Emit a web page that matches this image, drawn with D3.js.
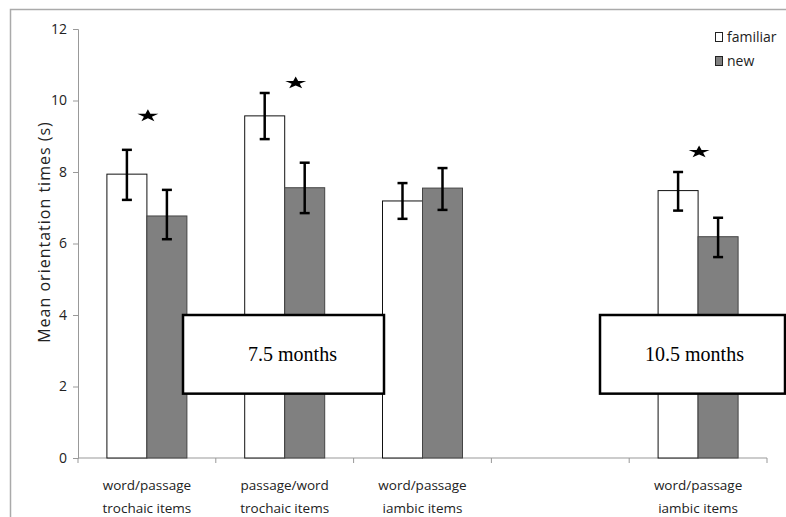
<!DOCTYPE html>
<html>
<head>
<meta charset="utf-8">
<script src="https://cdn.jsdelivr.net/npm/d3@7"></script>
<style>
  body { margin: 0; background: #fff; }
  svg { display: block; }
</style>
</head>
<body>
<svg id="chart"></svg>
<script>
// data
var categories = ["wp-tro", "pw-tro", "wp-iam", "gap", "wp-iam-10"],
  catLabels = [["word/passage", "trochaic items"], ["passage/word", "trochaic items"],
               ["word/passage", "iambic items"], ["", ""], ["word/passage", "iambic items"]],
  series = ["familiar", "new"],
  familiar = [7.94, 9.57, 7.19, null, 7.48],
  familiarLo = [7.22, 8.92, 6.69, null, 6.92],
  familiarHi = [8.62, 10.21, 7.69, null, 8.0],
  newVals = [6.77, 7.56, 7.55, null, 6.19],
  newLo = [6.12, 6.85, 6.94, null, 5.62],
  newHi = [7.5, 8.26, 8.11, null, 6.72],
  stars = [{cat: "wp-tro", v: 9.57}, {cat: "pw-tro", v: 10.49}, {cat: "wp-iam-10", v: 8.56}],
  yTicks = [0, 2, 4, 6, 8, 10, 12],
  ageBoxes = [{label: "7.5 months", top: 4, bottom: 1.8}, {label: "10.5 months", top: 4, bottom: 1.8}];

var width = 786, height = 517;
var svg = d3.select("#chart").attr("width", width).attr("height", height);

// outer frame
svg.append("path")
  .attr("d", "M10.5," + height + "V9.5H" + width)
  .attr("fill", "none").attr("stroke", "#aaa").attr("stroke-width", 1.5);

var x = d3.scaleBand().domain(categories).range([78, 767]);
var y = d3.scaleLinear().domain([0, 12]).range([458, 29]);
var barW = 40;

// y axis
var yAxis = svg.append("g").attr("transform", "translate(78,0)")
  .call(d3.axisLeft(y).tickValues(yTicks).tickSize(5).tickPadding(6));
yAxis.select(".domain").attr("stroke", "#999");
yAxis.selectAll(".tick line").attr("stroke", "#999");
yAxis.selectAll(".tick text")
  .attr("font-family", "Open Sans, sans-serif").attr("font-size", 14).attr("fill", "#222");

// x axis: ticks at the band edges
var xg = svg.append("g").attr("transform", "translate(0,458)");
xg.append("line").attr("x1", 78).attr("x2", 767).attr("stroke", "#999");
xg.selectAll(".xt").data(categories.concat(["end"])).enter().append("line")
  .attr("x1", function(d) { return d == "end" ? x.range()[1] : x(d); })
  .attr("x2", function(d) { return d == "end" ? x.range()[1] : x(d); })
  .attr("y1", 0).attr("y2", 5).attr("stroke", "#999");

categories.forEach(function(c, i) {
  var t = svg.append("text")
    .attr("x", x(c) + x.bandwidth() / 2)
    .attr("text-anchor", "middle")
    .attr("font-family", "Open Sans, sans-serif").attr("font-size", 13.5).attr("fill", "#222");
  t.append("tspan").attr("x", x(c) + x.bandwidth() / 2).attr("y", 490).text(catLabels[i][0]);
  t.append("tspan").attr("x", x(c) + x.bandwidth() / 2).attr("y", 513).text(catLabels[i][1]);
});

// axis title
svg.append("text")
  .attr("transform", "translate(50,232) rotate(-90)")
  .attr("text-anchor", "middle")
  .attr("font-family", "Open Sans, sans-serif").attr("font-size", 16)
  .attr("letter-spacing", 1).attr("fill", "#222")
  .text("Mean orientation times (s)");

// bars
var rows = [];
categories.forEach(function(c, i) {
  if (familiar[i] != null) rows.push({cat: c, s: 0, v: familiar[i], lo: familiarLo[i], hi: familiarHi[i]});
  if (newVals[i] != null) rows.push({cat: c, s: 1, v: newVals[i], lo: newLo[i], hi: newHi[i]});
});
function cx(d) { return x(d.cat) + x.bandwidth() / 2 + (d.s == 0 ? -barW / 2 : barW / 2); }

svg.selectAll(".bar").data(rows).enter().append("rect")
  .attr("x", function(d) { return cx(d) - barW / 2; })
  .attr("y", function(d) { return y(d.v); })
  .attr("width", barW)
  .attr("height", function(d) { return y(0) - y(d.v); })
  .attr("fill", function(d) { return d.s == 0 ? "#fff" : "#808080"; })
  .attr("stroke", function(d) { return d.s == 0 ? "#111" : "#444"; })
  .attr("stroke-width", 1);

// age boxes (drawn over the bars)
var boxSpans = [[183, 384], [600, 785]];
ageBoxes.forEach(function(b, i) {
  svg.append("rect")
    .attr("x", boxSpans[i][0]).attr("y", y(b.top))
    .attr("width", boxSpans[i][1] - boxSpans[i][0]).attr("height", y(b.bottom) - y(b.top))
    .attr("fill", "#fff").attr("stroke", "#000").attr("stroke-width", 2.5);
  svg.append("text")
    .attr("x", (boxSpans[i][0] + boxSpans[i][1]) / 2 + (i == 0 ? 9 : 2))
    .attr("y", (y(b.top) + y(b.bottom)) / 2 + 7)
    .attr("text-anchor", "middle")
    .attr("font-family", "Liberation Serif, Times New Roman, serif").attr("font-size", 20)
    .text(b.label);
});

// error bars
var eb = svg.selectAll(".err").data(rows).enter().append("g").attr("stroke", "#000").attr("stroke-width", 2.5);
eb.append("line")
  .attr("x1", cx).attr("x2", cx)
  .attr("y1", function(d) { return y(d.lo); }).attr("y2", function(d) { return y(d.hi); });
eb.append("line")
  .attr("x1", function(d) { return cx(d) - 5; }).attr("x2", function(d) { return cx(d) + 5; })
  .attr("y1", function(d) { return y(d.lo); }).attr("y2", function(d) { return y(d.lo); });
eb.append("line")
  .attr("x1", function(d) { return cx(d) - 5; }).attr("x2", function(d) { return cx(d) + 5; })
  .attr("y1", function(d) { return y(d.hi); }).attr("y2", function(d) { return y(d.hi); });

// significance stars (flattened, like the printed ones)
var star = d3.symbol().type(d3.symbolStar).size(75);
svg.selectAll(".star").data(stars).enter().append("path")
  .attr("d", star)
  .attr("transform", function(d) {
    return "translate(" + (x(d.cat) + x.bandwidth() / 2 + (d.cat == "pw-tro" ? 11 : 1)) + "," + y(d.v) + ") scale(1.35,0.8)";
  })
  .attr("fill", "#000");

// legend
var lg = svg.append("g").attr("font-family", "Open Sans, sans-serif").attr("font-size", 14);
series.forEach(function(s, i) {
  lg.append("rect").attr("x", 715.5).attr("y", 32.5 + i * 24).attr("width", 7).attr("height", 9)
    .attr("fill", i == 0 ? "#fff" : "#808080").attr("stroke", "#222");
  lg.append("text").attr("x", 727).attr("y", 42 + i * 24).attr("fill", "#222").text(s);
});
</script>
</body>
</html>
